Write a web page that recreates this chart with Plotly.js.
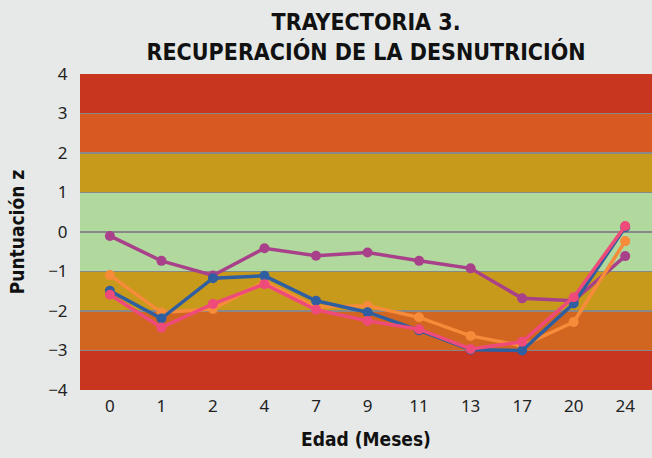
<!DOCTYPE html>
<html>
<head>
<meta charset="utf-8">
<script src="https://cdn.plot.ly/plotly-3.0.1.min.js"></script>
<style>html,body{margin:0;padding:0;background:#E6E9E7;}#chart{width:652px;height:458px;}</style>
</head>
<body>
<div id="chart"></div>
<script>
const categories = ['0','1','2','4','7','9','11','13','17','20','24'];
const seriesPurple = [-0.10, -0.73, -1.10, -0.41, -0.60, -0.52, -0.73, -0.92, -1.68, -1.74, -0.61];
const seriesOrange = [-1.09, -2.04, -1.95, -1.26, -1.90, -1.87, -2.16, -2.63, -2.88, -2.28, -0.23];
const seriesBlue   = [-1.49, -2.19, -1.17, -1.11, -1.74, -2.03, -2.49, -2.98, -3.00, -1.81, 0.12];
const seriesPink   = [-1.59, -2.42, -1.82, -1.32, -1.97, -2.25, -2.46, -2.96, -2.78, -1.65, 0.15];
const yTicks = [-4, -3, -2, -1, 0, 1, 2, 3, 4];
const bandLimits = [[-4,-3],[-3,-2],[-2,-1],[-1,1],[1,2],[2,3],[3,4]];
const bandColors = ['#C8361F','#D16621','#C89A1B','#B1D89D','#C89A1B','#D65A22','#C8361F'];

function line(y, color) {
  return {x: categories, y: y, type: 'scatter', mode: 'lines+markers',
    line: {color: color, width: 3.5}, marker: {color: color, size: 10},
    hoverinfo: 'skip', showlegend: false};
}
const traces = [
  line(seriesPurple, '#A8418A'),
  line(seriesOrange, '#F68B3A'),
  line(seriesBlue, '#2F5FA0'),
  line(seriesPink, '#EE4B7B')
];
const shapes = bandLimits.map((b, i) => ({
  type: 'rect', xref: 'paper', yref: 'y', x0: 0, x1: 1, y0: b[0], y1: b[1],
  fillcolor: bandColors[i], line: {width: 0}, layer: 'below'
}));
const tickFont = {family: 'Noto Sans, sans-serif', size: 17, color: '#222'};
const boldFont = {family: 'DejaVu Sans Condensed, DejaVu Sans, sans-serif', size: 19, color: '#111', weight: 'bold'};
const layout = {
  width: 652, height: 458,
  paper_bgcolor: '#E6E9E7', plot_bgcolor: '#E6E9E7',
  margin: {l: 80, r: 0, t: 74, b: 68},
  title: {text: '<b>TRAYECTORIA 3.<br>RECUPERACIÓN DE LA DESNUTRICIÓN</b>',
    font: {family: 'DejaVu Sans Condensed, DejaVu Sans, sans-serif', size: 23, color: '#111'},
    x: 0.5615, xanchor: 'center', yref: 'container', y: 0.934, yanchor: 'middle'},
  xaxis: {type: 'category', range: [-0.58, 10.52], showgrid: false, zeroline: false,
    tickfont: tickFont, ticks: 'outside', ticklen: 1, tickcolor: 'rgba(0,0,0,0)',
    title: {text: '<b>Edad (Meses)</b>', font: boldFont, standoff: 16}},
  yaxis: {range: [-4, 4], tickvals: yTicks, showgrid: true, gridcolor: '#888888', gridwidth: 1.5,
    zeroline: false, tickfont: tickFont, ticks: 'outside', ticklen: 8, tickcolor: 'rgba(0,0,0,0)',
    title: {text: '<b>Puntuación z</b>', font: boldFont, standoff: 18}},
  shapes: shapes
};
Plotly.newPlot('chart', traces, layout, {displayModeBar: false, staticPlot: true});
</script>
</body>
</html>
